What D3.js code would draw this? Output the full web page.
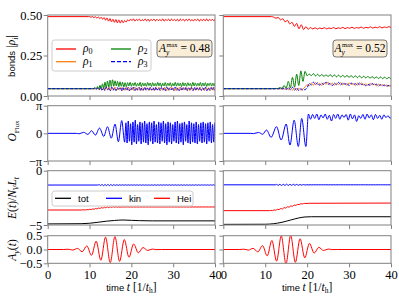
<!DOCTYPE html>
<html><head><meta charset="utf-8">
<script src="https://cdn.jsdelivr.net/npm/d3@7"></script>
<style>body{margin:0;background:#fff} svg{display:block}</style>
</head><body>
<script>
"use strict";
// ----------------------------------------
//  Data
// ----------------------------------------
const timeTicks = [0, 10, 20, 30, 40];
const aMax = ["0.48", "0.52"];
const bondTicks = [0, 0.25, 0.5], bondLabels = ["0.00", "0.25", "0.50"];
const fluxTicks = [-Math.PI, 0, Math.PI], fluxLabels = ["\u2212\u03c0", "0", "\u03c0"];
const enTicks = [-5, 0], enLabels = ["\u22125", "0"];
const ayTicks = [-0.5, 0, 0.5], ayLabels = ["\u22120.5", "0.0", "0.5"];

function block(t0, dt, vals) { return vals.map((v, i) => [t0 + i * dt, v]); }

// bonds, left (A=0.48)
const rho0L = [[0, 0.49], [9.7, 0.49]].concat(block(10, 0.35, [
  0.49,0.486,0.49,0.484,0.489,0.481,0.488,0.478,0.486,0.474,0.484,0.468,0.482,0.462,0.478,0.458,0.474,0.455,0.472,0.452,0.47,0.45,0.468,0.452,0.466,0.456,0.47,
  0.463,0.474,0.465,0.476,0.462,0.473,0.466,0.475,0.463,0.472,0.465,0.476,0.464,0.474,0.462,0.473,0.466,0.475,0.463,0.474,
  0.465,0.472,0.464,0.476,0.462,0.473,0.466,0.474,0.463,0.475,0.465,0.473,0.464,0.474,0.462,0.475,0.466,0.473,0.463,0.474,
  0.465,0.476,0.464,0.472,0.463,0.474,0.466,0.475,0.462,0.473,0.465,0.474,0.464,0.476,0.463,0.473,0.465,0.474,0.464,0.475,
  0.463,0.474,0.465]));
const rho1L = [[0, 0.045], [11, 0.045]].concat(block(11.2, 0.35, [
  0.045,0.041,0.048,0.038,0.05,0.036,0.052,0.035,0.05,0.037,0.054,0.033,0.052,0.036,0.055,0.034,0.05,0.038,0.053,0.032,
  0.051,0.036,0.055,0.034,0.049,0.037,0.053,0.033,0.052,0.036,0.054,0.035,0.05,0.033,0.053,0.037,0.051,0.034,0.055,0.036,
  0.049,0.033,0.052,0.037,0.054,0.034,0.05,0.036,0.053,0.032,0.051,0.035,0.055,0.037,0.049,0.034,0.052,0.033,0.054,0.036,
  0.05,0.037,0.053,0.034,0.051,0.033,0.055,0.036,0.049,0.035,0.052,0.034,0.054,0.037,0.05,0.033,0.053,0.036,0.051,0.034,
  0.055,0.035,0.05,0.036,0.052]));
const rho2L = [[0, 0.045], [10.8, 0.045]].concat(block(11, 0.3, [
  0.045,0.052,0.044,0.058,0.043,0.066,0.046,0.075,0.048,0.085,0.05,0.092,0.055,0.098,0.058,0.1,0.06,0.094,0.062,0.09,0.058,0.088,0.06,0.085,0.056,0.082,0.058,
  0.082,0.062,0.084,0.06,0.08,0.064,0.083,0.06,0.078,0.063,0.084,0.058,0.081,0.062,0.079,0.06,0.083,0.064,0.08,0.059,
  0.082,0.062,0.078,0.061,0.084,0.063,0.081,0.058,0.079,0.062,0.083,0.06,0.08,0.064,0.082,0.059,0.078,0.062,0.084,0.061,
  0.081,0.063,0.079,0.058,0.083,0.062,0.08,0.06,0.082,0.064,0.078,0.059,0.084,0.062,0.081,0.061,0.079,0.063,0.083,0.06,
  0.08,0.062,0.082,0.059,0.078,0.064,0.081,0.061,0.079,0.062,0.082,0.06,0.08]));
const rho3L = [[0, 0.045], [10.8, 0.045]].concat(block(11, 0.33, [
  0.045,0.049,0.04,0.051,0.038,0.053,0.036,0.05,0.034,0.054,0.037,0.052,0.033,0.055,0.036,0.05,0.034,0.053,0.038,0.051,
  0.032,0.054,0.036,0.05,0.035,0.053,0.033,0.052,0.037,0.055,0.034,0.05,0.036,0.053,0.033,0.051,0.037,0.054,0.035,0.049,
  0.034,0.053,0.036,0.052,0.032,0.055,0.037,0.05,0.034,0.053,0.036,0.051,0.033,0.054,0.035,0.05,0.037,0.052,0.034,0.055,
  0.036,0.049,0.033,0.053,0.035,0.051,0.037,0.054,0.034,0.05,0.036,0.052,0.033,0.055,0.035,0.05,0.037,0.053,0.034,0.051,
  0.036,0.054,0.033,0.05,0.035,0.052,0.037,0.053,0.034,0.051]));

// bonds, right (A=0.52)
const rho0R = [[0, 0.49], [11.5, 0.49]].concat(block(12, 0.55, [
  0.487,0.48,0.485,0.47,0.477,0.458,0.467,0.445,0.455,0.43,0.448,0.415,0.44,0.41,0.428,0.412,0.422,0.414,0.421,0.413,
  0.42,0.415,0.422,0.414,0.42,0.416,0.423,0.415,0.421,0.417,0.424,0.416,0.422,0.418,0.425,0.417,0.423,0.419,0.426,0.418,
  0.424,0.42,0.427,0.419,0.425,0.421,0.428,0.42,0.426,0.422,0.428,0.423,0.427]));
const rho1R = [[0, 0.045], [12.3, 0.045]].concat(block(12.5, 0.5, [
  0.045,0.047,0.042,0.049,0.04,0.051,0.038,0.053,0.036,0.05,0.034,0.048,0.036,0.044,0.055,0.07,0.062,0.08,0.066,0.084,
  0.07,0.078,0.064,0.082,0.072,0.086,0.068,0.08,0.066,0.078,0.07,0.083,0.068,0.079,0.065,0.082,0.071,0.077,0.064,0.08,
  0.069,0.081,0.066,0.076,0.064,0.078,0.068,0.075,0.063,0.073,0.065,0.07,0.062,0.068,0.06,0.066,0.063]));
const rho2R = [[0, 0.045], [12.3, 0.045]].concat(block(12.5, 0.5, [
  0.047,0.045,0.052,0.046,0.065,0.048,0.09,0.05,0.115,0.055,0.135,0.065,0.155,0.09,0.152,0.125,0.135,0.126,0.138,0.124,
  0.134,0.122,0.133,0.121,0.131,0.12,0.132,0.119,0.13,0.118,0.129,0.117,0.128,0.116,0.127,0.115,0.126,0.114,0.125,0.113,
  0.124,0.112,0.122,0.111,0.121,0.11,0.12,0.109,0.118,0.108,0.117,0.107,0.116,0.106,0.115,0.105,0.113]));
const rho3R = [[0, 0.045], [12.3, 0.045]].concat(block(12.5, 0.5, [
  0.045,0.043,0.048,0.042,0.05,0.04,0.052,0.038,0.054,0.036,0.05,0.034,0.045,0.036,0.04,0.05,0.078,0.068,0.085,0.07,
  0.082,0.066,0.08,0.07,0.086,0.072,0.078,0.064,0.08,0.07,0.084,0.068,0.082,0.072,0.078,0.064,0.08,0.07,0.076,0.066,
  0.082,0.07,0.075,0.063,0.072,0.066,0.078,0.067,0.073,0.061,0.07,0.063,0.068,0.06,0.066,0.061,0.064]));

// flux
const fluxL = [[0, 0], [6.8, 0], [7.5, -0.05], [8.6, 0.12], [9.6, -0.12], [10.5, 0.3], [11.4, -0.2], [12.4, 0.6],
  [13.4, -0.35], [14.3, 0.75], [15.2, -0.55], [16.1, 1.05], [16.9, -0.95], [17.7, 1.45], [18.4, -1.0]].concat(block(18.7, 0.28, [
  1.2,-1.1,1.4,-0.9,1.1,-1.3,1.3,-1.0,1.5,-1.2,1.0,-0.9,1.3,-1.2,1.2,-1.0,1.4,-1.1,1.1,-1.3,
  1.3,-0.9,1.2,-1.2,1.4,-1.0,1.0,-1.1,1.3,-1.2,1.2,-0.9,1.4,-1.1,1.1,-1.3,1.3,-1.0,1.2,-1.2,
  1.0,-0.9,1.3,-1.1,1.4,-1.2,1.1,-1.0,1.2,-1.3,1.3,-0.9,1.0,-1.1,1.4,-1.2,1.2,-1.0,1.1,-1.1,
  1.3,-1.2,1.0,-0.9,1.2,-1.1,1.3,-1.0,1.1,-1.2,1.2,-0.9,1.3,-1.1,1.0,-1.0,1.2,-1.1,1.3,-1.0]));
const fluxR = [[0, 0], [6.4, 0], [7.2, -0.03], [8.4, 0.1], [9.4, -0.1], [10.3, 0.38], [11.4, -0.45], [12.7, 0.76],
  [13.8, -0.76], [15.0, 1.06], [15.9, -1.33], [16.9, 1.5], [17.9, -1.5], [18.7, 1.7], [19.7, -1.5], [20.3, 2.2]].concat(block(20.8, 0.5, [
  1.6,2.15,1.7,2.2,1.55,2.1,1.75,2.2,1.6,2.05,1.4,2.15,1.7,2.2,1.6,2.1,1.8,2.15,1.5,2.2,
  1.65,2.1,1.35,2.0,1.7,2.15,1.6,2.2,1.75,2.1,1.55,2.15,1.7,2.05,1.6,2.1,1.8,2.0,1.7,2.1]));

// energies per N_V L_t
const totL = [[0, -4.9], [8, -4.88], [10, -4.84], [12, -4.75], [14, -4.65], [16, -4.58], [18, -4.54], [20, -4.57], [22, -4.6], [25, -4.62], [40, -4.62]];
const kinL = [[0, -1.32], [12, -1.32]].concat(block(12.3, 0.35, [
  -1.27,-1.37,-1.26,-1.38,-1.27,-1.37,-1.26,-1.38,-1.27,-1.37,-1.28,-1.36,-1.29,-1.35,-1.3,
  -1.34,-1.3,-1.34,-1.3,-1.34,-1.3,-1.34,-1.3,-1.34,-1.3,-1.34,-1.3,-1.34,-1.3,-1.34,-1.3,-1.34,-1.3,-1.34,-1.3,
  -1.34,-1.3,-1.34,-1.3,-1.34,-1.3,-1.34,-1.3,-1.34,-1.3,-1.34,-1.3,-1.34,-1.3,-1.34,-1.3,-1.34,-1.3,-1.34,-1.3,
  -1.34,-1.3,-1.34,-1.3,-1.34,-1.3,-1.34,-1.3,-1.34,-1.3,-1.34,-1.3,-1.34,-1.3,-1.34,-1.3,-1.34,-1.3,-1.34,-1.3,
  -1.34,-1.3,-1.34,-1.3,-1.34,-1.3]));
const heiL = [[0, -3.62], [8, -3.62]].concat(block(8.3, 0.35, [
  -3.61,-3.6,-3.62,-3.58,-3.6,-3.55,-3.58,-3.52,-3.55,-3.48,-3.52,-3.44,-3.48,-3.4,-3.45,-3.36,-3.42,-3.33,-3.4,-3.32,
  -3.38,-3.31,-3.37,-3.32,-3.36,-3.33,-3.36,
  -3.33,-3.35,-3.33,-3.35,-3.33,-3.35,-3.33,-3.35,-3.33,-3.35,-3.33,-3.35,-3.33,-3.35,-3.33,-3.35,-3.33,-3.35,-3.33,-3.35,
  -3.33,-3.35,-3.33,-3.35,-3.33,-3.35,-3.33,-3.35,-3.33,-3.35,-3.33,-3.35,-3.33,-3.35,-3.33,-3.35,-3.33,-3.35,-3.33,-3.35,
  -3.33,-3.35,-3.33,-3.35,-3.33,-3.35,-3.33,-3.35,-3.33,-3.35,-3.33,-3.35,-3.33,-3.35,-3.33,-3.35,-3.33,-3.35,-3.33,-3.35,
  -3.33,-3.35,-3.33,-3.35,-3.33]));
const totR = [[0, -4.94], [10, -4.93], [12, -4.88], [14, -4.75], [16, -4.55], [18, -4.35], [19.5, -4.26], [21, -4.24], [40, -4.24]];
const kinR = [[0, -1.3], [12.5, -1.3]].concat(block(12.7, 0.4, [
  -1.26,-1.35,-1.25,-1.36,-1.25,-1.36,-1.24,-1.36,-1.25,-1.35,-1.25,-1.35,-1.26,-1.34,-1.27,-1.33,-1.28,-1.32,-1.29,-1.31,
  -1.295,-1.305,-1.295,-1.305,-1.295,-1.305,-1.295,-1.305,-1.295,-1.305,-1.295,-1.305,-1.295,-1.305,-1.295,-1.305,
  -1.295,-1.305,-1.295,-1.305,-1.295,-1.305,-1.295,-1.305,-1.295,-1.305,-1.295,-1.305,-1.295,-1.305,-1.295,-1.305,
  -1.295,-1.305,-1.295,-1.305,-1.295,-1.305,-1.295,-1.305,-1.295,-1.305,-1.295,-1.305,-1.295,-1.305,-1.295,-1.305,-1.295,-1.305]));
const heiR = [[0, -3.68], [11, -3.68]].concat(block(11.3, 0.4, [
  -3.66,-3.68,-3.62,-3.64,-3.56,-3.58,-3.48,-3.52,-3.4,-3.44,-3.32,-3.36,-3.24,-3.28,-3.16,-3.2,-3.1,-3.12,-3.04,-3.06,-3.01,-3.02
]), [[20.5, -3.0], [40, -2.98]]);

// vector potential pulse A_y(t)
const ayL = [[0, 0], [3.8, 0], [4.87, 0.01], [5.99, -0.02], [7.11, 0.04], [8.23, -0.08], [9.35, 0.13], [10.47, -0.21], [11.59, 0.3],
  [12.71, -0.39], [13.83, 0.45], [14.95, -0.48], [16.07, 0.47], [17.19, -0.43], [18.31, 0.36], [19.43, -0.28], [20.55, 0.2],
  [21.67, -0.12], [22.79, 0.07], [23.91, -0.035], [25.03, 0.015], [26.15, -0.005], [27.2, 0], [40, 0]];
const ayR = [[0, 0], [3.8, 0], [4.87, 0.011], [5.99, -0.022], [7.11, 0.043], [8.23, -0.087], [9.35, 0.14], [10.47, -0.23], [11.59, 0.325],
  [12.71, -0.42], [13.83, 0.49], [14.95, -0.52], [16.07, 0.51], [17.19, -0.465], [18.31, 0.39], [19.43, -0.3], [20.55, 0.22],
  [21.67, -0.13], [22.79, 0.076], [23.91, -0.038], [25.03, 0.016], [26.15, -0.005], [27.2, 0], [40, 0]];

// ----------------------------------------
//  Layout
// ----------------------------------------
const cols = [[47.7, 215], [223.3, 391]];
const rows = [
  {top: 15, bot: 96, dom: [0, 0.5], ticks: bondTicks, labels: bondLabels,
   series: [[[rho0L, "#ff0000"], [rho1L, "#ff7f0e"], [rho2L, "#008000"], [rho3L, "#0000ff", "3,1.5"]],
            [[rho0R, "#ff0000"], [rho1R, "#ff7f0e"], [rho2R, "#008000"], [rho3R, "#0000ff", "3,1.5"]]]},
  {top: 105.7, bot: 161, dom: [-Math.PI, Math.PI], ticks: fluxTicks, labels: fluxLabels,
   series: [[[fluxL, "#0000ff"]], [[fluxR, "#0000ff"]]]},
  {top: 170.7, bot: 225, dom: [-5, 0], ticks: enTicks, labels: enLabels,
   series: [[[totL, "#000"], [kinL, "#0000ff"], [heiL, "#ff0000"]], [[totR, "#000"], [kinR, "#0000ff"], [heiR, "#ff0000"]]]},
  {top: 235.7, bot: 263.3, dom: [-0.5, 0.5], ticks: ayTicks, labels: ayLabels,
   series: [[[ayL, "#ff0000"]], [[ayR, "#ff0000"]]]}
];

const serif = "'Liberation Serif', 'DejaVu Serif', serif";
const sans = "'Liberation Sans', Arial, sans-serif";
const spine = "#808080";

let svg = d3.select("body").append("svg").attr("width", 399).attr("height", 299);
svg.append("rect").attr("width", 399).attr("height", 299).attr("fill", "#fff");

rows.forEach((row, ri) => {
  cols.forEach((c, ci) => {
    let x = d3.scaleLinear().domain([0, 40]).range(c);
    let y = d3.scaleLinear().domain(row.dom).range([row.bot, row.top]);
    let id = "clip" + ri + ci;
    svg.append("clipPath").attr("id", id).append("rect")
      .attr("x", c[0]).attr("y", row.top).attr("width", c[1] - c[0]).attr("height", row.bot - row.top);

    let line = d3.line().x(d => x(d[0])).y(d => y(d[1])).curve(d3.curveMonotoneX);
    let lg = svg.append("g").attr("clip-path", "url(#" + id + ")");
    row.series[ci].forEach(s => {
      lg.append("path").datum(s[0]).attr("d", line).attr("fill", "none")
        .attr("stroke", s[1]).attr("stroke-width", 1)
        .attr("stroke-dasharray", s[2] || null);
    });

    // axes
    let xa = svg.append("g").attr("transform", "translate(0," + row.bot + ")")
      .call(d3.axisBottom(x).tickValues(timeTicks).tickSize(4).tickPadding(2.5)
        .tickFormat(ri === 3 ? d3.format("d") : ""));
    let ya = svg.append("g").attr("transform", "translate(" + c[0] + ",0)")
      .call(d3.axisLeft(y).tickValues(row.ticks).tickSize(4).tickPadding(1.5)
        .tickFormat((d, i) => ci === 0 ? row.labels[i] : ""));
    [xa, ya].forEach(a => {
      a.select(".domain").remove();
      a.selectAll(".tick line").attr("stroke", spine);
      a.selectAll("text").attr("font-family", serif).attr("font-size", 12.5).attr("fill", "#000");
    });

    svg.append("rect").attr("x", c[0]).attr("y", row.top).attr("width", c[1] - c[0]).attr("height", row.bot - row.top)
      .attr("fill", "none").attr("stroke", spine).attr("stroke-width", 1);
  });
});

// ----------------------------------------
//  Axis labels
// ----------------------------------------
function ylabel(cx, cy, parts) {
  let t = svg.append("text").attr("transform", "translate(" + cx + "," + cy + ") rotate(-90)")
    .attr("text-anchor", "middle");
  parts.forEach(p => {
    t.append("tspan").text(p[0]).attr("font-family", p[1] === "s" ? sans : serif)
      .attr("font-style", p[2] ? "italic" : null).attr("font-size", p[3])
      .attr("dy", p[4] || 0);
  });
  return t;
}
ylabel(15, 56, [["bonds ", "s", false, 9.5], ["|\u03c1", "m", true, 11.5], ["i", "m", true, 8, 2.5], ["|", "m", false, 11.5, -2.5]]);
ylabel(16, 131, [["O", "m", true, 11.5], ["Flux", "m", false, 7, 2.5]]);
ylabel(16, 198, [["E", "m", true, 11.5], ["(", "m", false, 11.5], ["t", "m", true, 11.5], [")/", "m", false, 11.5],
  ["N", "m", true, 11.5], ["V", "m", true, 7.5, 2.5], ["L", "m", true, 11.5, -2.5], ["t", "m", true, 7.5, 2.5]]);
ylabel(16, 250, [["A", "m", true, 11.5], ["y", "m", true, 8, 2.5], ["(", "m", false, 11.5, -2.5], ["t", "m", true, 11.5], [")", "m", false, 11.5]]);

cols.forEach(c => {
  let t = svg.append("text").attr("x", (c[0] + c[1]) / 2).attr("y", 291).attr("text-anchor", "middle");
  t.append("tspan").text("time ").attr("font-family", sans).attr("font-size", 9.5);
  t.append("tspan").text("t").attr("font-family", serif).attr("font-style", "italic").attr("font-size", 11.5);
  t.append("tspan").text(" [1/").attr("font-family", serif).attr("font-size", 11.5);
  t.append("tspan").text("t").attr("font-family", serif).attr("font-style", "italic").attr("font-size", 11.5);
  t.append("tspan").text("h").attr("font-family", serif).attr("font-size", 7.5).attr("dy", 2);
  t.append("tspan").text("]").attr("font-family", serif).attr("font-size", 11.5).attr("dy", -2);
});

// ----------------------------------------
//  Legends and annotations
// ----------------------------------------
let leg = svg.append("g");
leg.append("rect").attr("x", 52).attr("y", 40).attr("width", 99).attr("height", 31).attr("rx", 2.5)
  .attr("fill", "#fff").attr("fill-opacity", 0.8).attr("stroke", "#ccc");
const bondLeg = [["0", "#ff0000", null, 56, 49], ["1", "#ff7f0e", null, 56, 61.7], ["2", "#008000", null, 111, 49], ["3", "#0000ff", "4,2", 111, 61.7]];
bondLeg.forEach(e => {
  leg.append("line").attr("x1", e[3]).attr("x2", e[3] + 20).attr("y1", e[4]).attr("y2", e[4])
    .attr("stroke", e[1]).attr("stroke-width", 1.3).attr("stroke-dasharray", e[2]);
  let t = leg.append("text").attr("x", e[3] + 27).attr("y", e[4] + 3).attr("font-family", serif).attr("font-style", "italic");
  t.append("tspan").text("\u03c1").attr("font-size", 11.5);
  t.append("tspan").text(e[0]).attr("font-size", 8).attr("dy", 2).attr("font-style", "normal");
});

let eleg = svg.append("g");
eleg.append("rect").attr("x", 52).attr("y", 191).attr("width", 141).attr("height", 15).attr("rx", 2.5)
  .attr("fill", "#fff").attr("fill-opacity", 0.8).attr("stroke", "#ccc");
const enLeg = [["tot", "#000", 55], ["kin", "#0000ff", 106], ["Hei", "#ff0000", 154]];
enLeg.forEach(e => {
  eleg.append("line").attr("x1", e[2]).attr("x2", e[2] + 16).attr("y1", 198.3).attr("y2", 198.3)
    .attr("stroke", e[1]).attr("stroke-width", 1.3);
  eleg.append("text").attr("x", e[2] + 23).attr("y", 201.5).attr("font-family", sans).attr("font-size", 9.5).text(e[0]);
});

[[157, 212], [333, 387]].forEach((b, i) => {
  svg.append("rect").attr("x", b[0]).attr("y", 40).attr("width", b[1] - b[0]).attr("height", 17).attr("rx", 3)
    .attr("fill", "#f5deb3").attr("fill-opacity", 0.5).attr("stroke", "#555").attr("stroke-width", 0.8);
  let t = svg.append("text").attr("x", (b[0] + b[1]) / 2).attr("y", 52).attr("text-anchor", "middle")
    .attr("font-family", serif).attr("font-size", 11.5);
  t.append("tspan").text("A").attr("font-style", "italic");
  t.append("tspan").text("y").attr("font-style", "italic").attr("font-size", 7.5).attr("dy", 3);
  t.append("tspan").text("max").attr("font-size", 6.5).attr("dy", -8).attr("dx", -3);
  t.append("tspan").text(" = " + aMax[i]).attr("dy", 5);
});
</script>
</body></html>
